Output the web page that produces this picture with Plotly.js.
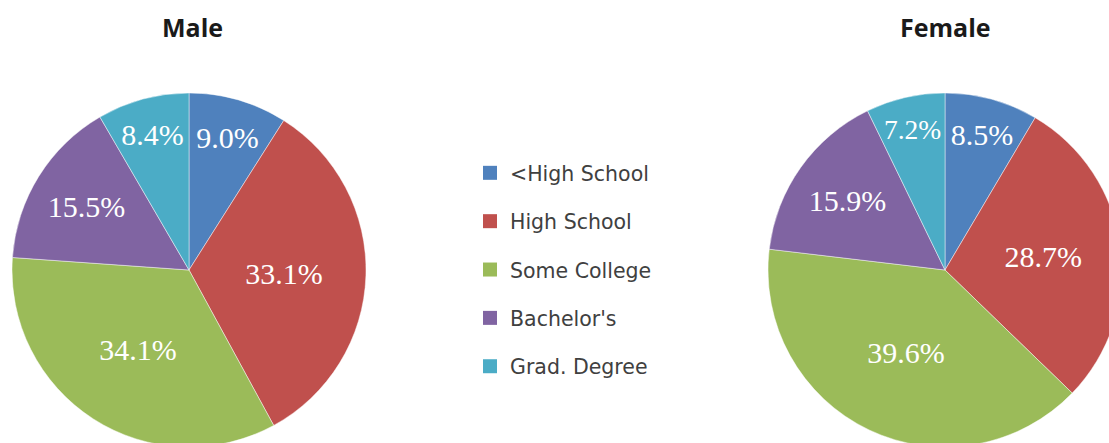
<!DOCTYPE html>
<html><head><meta charset="utf-8">
<script src="https://cdn.plot.ly/plotly-3.0.1.min.js"></script>
<style>html,body{margin:0;padding:0;overflow:hidden;background:#fff}#chart{width:1130px;height:460px}</style>
</head><body><div id="chart"></div>
<script>
var categories = ["<High School", "High School", "Some College", "Bachelor's", "Grad. Degree"];
var maleValues = [9.0, 33.1, 34.1, 15.5, 8.4];
var femaleValues = [8.5, 28.7, 39.6, 15.9, 7.2];
var colors = ["#4F81BD", "#C0504D", "#9BBB59", "#8064A2", "#4BACC6"];
var titles = ["Male", "Female"];

var W = 1130, H = 460;
function pie(vals, x0, x1) {
  return {
    type: 'pie', values: vals, labels: categories, sort: false, direction: 'clockwise', rotation: 0,
    marker: {colors: colors, line: {color: 'rgba(255,255,255,0.45)', width: 1}},
    texttemplate: '%{value:.1f}%', textposition: 'inside', insidetextorientation: 'horizontal',
    textfont: {family: 'Liberation Serif, Times New Roman, serif', size: 30, color: '#ffffff'},
    hoverinfo: 'label+value', showlegend: false,
    domain: {x: [x0 / W, x1 / W], y: [1 - 447 / H, 1 - 93 / H]}
  };
}
var data = [pie(maleValues, 12, 366), pie(femaleValues, 768, 1122)];
categories.forEach(function (c, i) {
  data.push({type: 'scatter', x: [null], y: [null], mode: 'markers', name: c, legendgroup: 'g' + i,
    marker: {symbol: 'square', size: 14, color: colors[i]}, hoverinfo: 'skip'});
});

var titleFont = {family: 'Open Sans, sans-serif', size: 25, color: '#1a1a1a'};
var layout = {
  width: W, height: H, margin: {l: 0, r: 0, t: 0, b: 0},
  paper_bgcolor: '#fff', plot_bgcolor: '#fff',
  xaxis: {visible: false}, yaxis: {visible: false},
  showlegend: true,
  legend: {x: 470 / W, y: 1 - 153 / H, xanchor: 'left', yanchor: 'top', tracegroupgap: 18.7, itemwidth: 30,
    font: {family: 'DejaVu Sans, sans-serif', size: 20.5, color: '#404040'}, bgcolor: 'rgba(0,0,0,0)'},
  annotations: [
    {text: '<b>' + titles[0] + '</b>', x: 192 / W, y: 1 - 27 / H, xref: 'paper', yref: 'paper', xanchor: 'center', yanchor: 'middle', showarrow: false, font: titleFont},
    {text: '<b>' + titles[1] + '</b>', x: 945 / W, y: 1 - 27 / H, xref: 'paper', yref: 'paper', xanchor: 'center', yanchor: 'middle', showarrow: false, font: titleFont}
  ]
};
Plotly.newPlot('chart', data, layout, {displayModeBar: false, staticPlot: true});
</script></body></html>
